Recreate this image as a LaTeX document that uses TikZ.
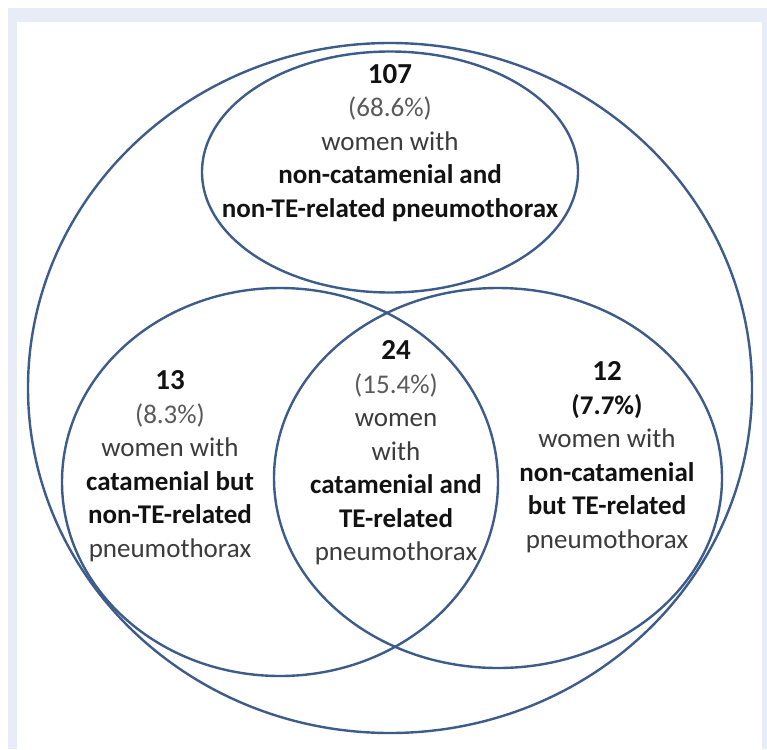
\documentclass[tikz,border=0pt]{standalone}
\usepackage{fontspec}
\setmainfont{Carlito}
\usetikzlibrary{shapes.geometric}
\definecolor{frame}{RGB}{232,236,247}
\definecolor{ring}{RGB}{62,92,138}
\definecolor{txtgray}{RGB}{60,60,60}
\definecolor{pctgray}{RGB}{90,90,90}
\definecolor{txtdark}{RGB}{18,18,18}
\tikzset{
  ring/.style={ellipse, draw=ring, line width=2.4pt, inner sep=0pt},
  label/.style={align=center, text=txtgray, font=\fontsize{27}{33.5}\selectfont, inner sep=0pt},
}
\newcommand{\numtxt}[1]{{\fontsize{29}{33.5}\selectfont\bfseries\color{txtdark}#1}}
\newcommand{\pcttxt}[1]{{\color{pctgray}#1}}
\newcommand{\bldtxt}[1]{{\bfseries\color{txtdark}#1}}
\begin{document}
\begin{tikzpicture}[x=1pt,y=-1pt]
\useasboundingbox (0,0) rectangle (767,749);
\fill[white] (0,0) rectangle (767,749);
\fill[frame] (8,8) rectangle (767,749);
\fill[white] (17,22) rectangle (762,749);
\node[ring, minimum width=724pt, minimum height=690pt] (outer) at (390,388) {};
\node[ring, minimum width=376pt, minimum height=241pt] (top) at (390,172) {};
\node[ring, minimum width=436pt, minimum height=388pt] (left) at (280,482) {};
\node[ring, minimum width=448pt, minimum height=380pt] (right) at (498,478) {};
\node[label] (ttop) at (390,143) {\numtxt{107}\\\pcttxt{(68.6\%)}\\women with\\\bldtxt{non-catamenial and}\\\bldtxt{non-TE-related pneumothorax}};
\node[label] (tleft) at (170,466) {\numtxt{13}\\\pcttxt{(8.3\%)}\\women with\\\bldtxt{catamenial but}\\\bldtxt{non-TE-related}\\pneumothorax};
\node[label] (tmid) at (396,453) {\numtxt{24}\\\pcttxt{(15.4\%)}\\women\\with\\\bldtxt{catamenial and}\\\bldtxt{TE-related}\\pneumothorax};
\node[label] (tright) at (607,457) {\numtxt{12}\\\bldtxt{(7.7\%)}\\women with\\\bldtxt{non-catamenial}\\\bldtxt{but TE-related}\\pneumothorax};
\end{tikzpicture}
\end{document}
